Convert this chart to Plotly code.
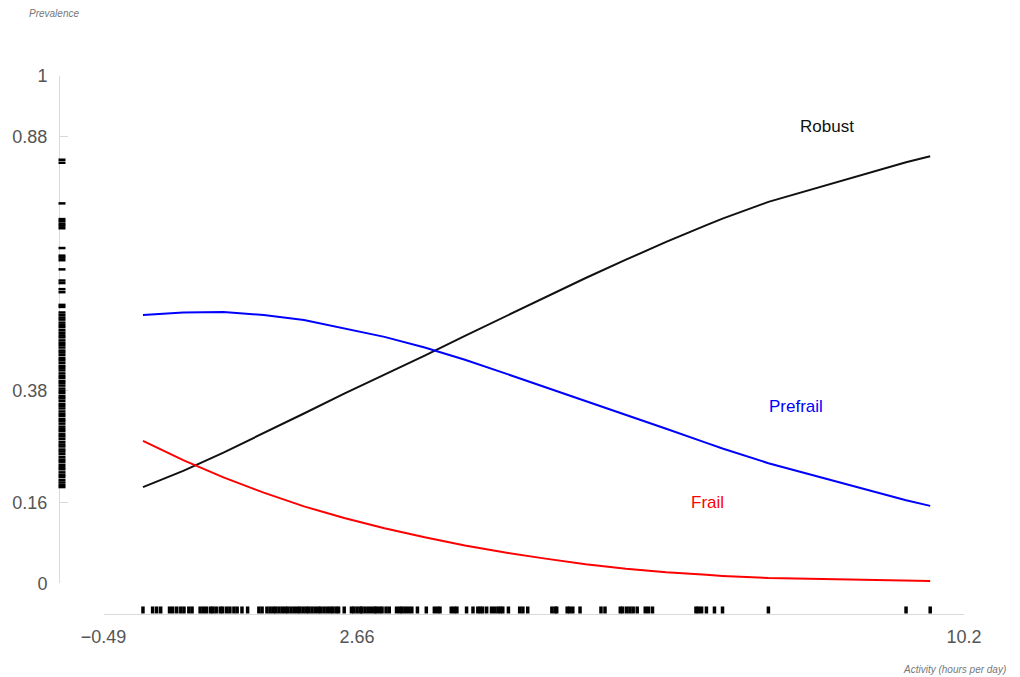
import plotly.graph_objects as go

# Activity level (hours per day) at which the fitted prevalences are evaluated
activity_grid = [0.0, 0.5, 1.0, 1.5, 2.0, 2.5, 3.0, 3.5, 4.0, 4.5, 5.0, 5.5, 6.0, 6.5,
                 7.0, 7.2, 7.77, 9.48, 9.78]

prev_robust = [0.190, 0.222, 0.258, 0.296, 0.335, 0.374, 0.411, 0.449, 0.488, 0.526,
               0.565, 0.602, 0.638, 0.673, 0.706, 0.719, 0.752, 0.830, 0.842]

prev_prefrail = [0.529, 0.534, 0.535, 0.529, 0.519, 0.503, 0.486, 0.465, 0.441, 0.414,
                 0.387, 0.360, 0.333, 0.305, 0.277, 0.266, 0.237, 0.164, 0.153]

prev_frail = [0.281, 0.243, 0.209, 0.179, 0.152, 0.129, 0.109, 0.091, 0.075, 0.061,
              0.049, 0.038, 0.029, 0.022, 0.017, 0.015, 0.011, 0.006, 0.005]

# Observed activity values (rug along the x axis)
activity_obs = [
    0.00, 0.12, 0.17, 0.22, 0.33, 0.37, 0.42, 0.47, 0.51, 0.57, 0.61, 0.71, 0.75, 0.79,
    0.84, 0.87, 0.91, 0.96, 0.99, 1.04, 1.08, 1.13, 1.17, 1.23, 1.30, 1.44, 1.48, 1.54,
    1.58, 1.62, 1.65, 1.69, 1.73, 1.77, 1.80, 1.84, 1.88, 1.92, 1.95, 1.99, 2.03, 2.06,
    2.10, 2.14, 2.18, 2.21, 2.25, 2.29, 2.33, 2.36, 2.40, 2.43, 2.50, 2.59, 2.62, 2.66,
    2.70, 2.72, 2.76, 2.80, 2.84, 2.88, 2.90, 2.94, 2.97, 3.02, 3.06, 3.15, 3.19, 3.22,
    3.26, 3.30, 3.34, 3.41, 3.52, 3.62, 3.66, 3.69, 3.83, 3.87, 3.90, 4.02, 4.10, 4.16,
    4.19, 4.22, 4.27, 4.33, 4.37, 4.41, 4.44, 4.47, 4.54, 4.68, 4.72, 4.78, 5.08, 5.12,
    5.14, 5.27, 5.30, 5.34, 5.43, 5.69, 5.74, 5.93, 5.96, 6.01, 6.05, 6.09, 6.14, 6.24,
    6.28, 6.33, 6.87, 6.90, 6.94, 7.00, 7.10, 7.20, 7.77, 9.48, 9.78,
]

# Observed prevalence-scale values (rug along the y axis)
prevalence_obs = [
    0.835, 0.829, 0.749, 0.718, 0.714, 0.709, 0.705, 0.700, 0.661, 0.646, 0.642, 0.637,
    0.619, 0.597, 0.592, 0.580, 0.574, 0.549, 0.545, 0.534, 0.529, 0.524, 0.520, 0.514,
    0.509, 0.505, 0.499, 0.494, 0.489, 0.485, 0.479, 0.474, 0.470, 0.465, 0.459, 0.455,
    0.450, 0.444, 0.440, 0.435, 0.429, 0.425, 0.420, 0.414, 0.409, 0.405, 0.399, 0.395,
    0.390, 0.384, 0.379, 0.375, 0.369, 0.365, 0.360, 0.354, 0.350, 0.345, 0.339, 0.334,
    0.330, 0.324, 0.320, 0.315, 0.309, 0.304, 0.300, 0.294, 0.290, 0.285, 0.279, 0.274,
    0.270, 0.264, 0.260, 0.255, 0.249, 0.244, 0.240, 0.234, 0.229, 0.225, 0.219, 0.214,
    0.210, 0.204, 0.199, 0.194, 0.190,
]

x_ticks = [-0.49, 2.66, 10.2]
x_ticktext = ["\u22120.49", "2.66", "10.2"]
y_ticks = [0, 0.16, 0.38, 0.88, 1]
y_ticktext = ["0", "0.16", "0.38", "0.88", "1"]

FONT = "Liberation Sans, Arial, Helvetica, sans-serif"
AXIS_GREY = "#d9d9d9"
LABEL_GREY = "#555555"

fig = go.Figure()

fig.add_trace(go.Scatter(x=activity_grid, y=prev_robust, mode="lines",
                         line=dict(color="#111111", width=2), showlegend=False))
fig.add_trace(go.Scatter(x=activity_grid, y=prev_prefrail, mode="lines",
                         line=dict(color="#0000ff", width=2), showlegend=False))
fig.add_trace(go.Scatter(x=activity_grid, y=prev_frail, mode="lines",
                         line=dict(color="#ff0000", width=2), showlegend=False))

# rug on the x axis, drawn in a thin strip just above the axis line
fig.add_trace(go.Scatter(x=activity_obs, y=[0] * len(activity_obs), mode="markers",
                         xaxis="x", yaxis="y3", cliponaxis=False, showlegend=False,
                         marker=dict(symbol="line-ns", size=5,
                                     line=dict(color="black", width=3.5))))
# rug on the y axis, drawn in a thin strip just right of the axis line
fig.add_trace(go.Scatter(x=[0] * len(prevalence_obs), y=prevalence_obs, mode="markers",
                         xaxis="x2", yaxis="y", cliponaxis=False, showlegend=False,
                         marker=dict(symbol="line-ew", size=5,
                                     line=dict(color="black", width=2.5))))

fig.update_layout(
    width=1020, height=677,
    margin=dict(l=59, r=56, t=76, b=63),
    paper_bgcolor="white", plot_bgcolor="white",
    font=dict(family=FONT, color=LABEL_GREY),
    showlegend=False,
    xaxis=dict(
        domain=[0.0492, 1], range=[-0.49, 10.2], anchor="free", position=0,
        showline=True, linecolor=AXIS_GREY, linewidth=1,
        showgrid=False, zeroline=False,
        tickmode="array", tickvals=x_ticks, ticktext=x_ticktext,
        ticks="inside", ticklen=8, tickcolor=AXIS_GREY, tickwidth=1,
        ticklabelstandoff=6,
        tickfont=dict(size=18, color=LABEL_GREY, family=FONT),
    ),
    yaxis=dict(
        domain=[0.0567, 1], range=[0, 1], anchor="free", position=0,
        showline=True, linecolor=AXIS_GREY, linewidth=1,
        showgrid=False, zeroline=False,
        tickmode="array", tickvals=y_ticks, ticktext=y_ticktext,
        ticks="inside", ticklen=8, tickcolor=AXIS_GREY, tickwidth=1,
        ticklabelstandoff=8,
        tickfont=dict(size=18, color=LABEL_GREY, family=FONT),
    ),
    xaxis2=dict(domain=[0, 0.0066], range=[-1, 1], anchor="y", visible=False,
                showgrid=False, zeroline=False),
    yaxis3=dict(domain=[0, 0.015], range=[-1, 1], anchor="x", visible=False,
                showgrid=False, zeroline=False),
    annotations=[
        dict(text="Robust", x=8.50, y=0.90, xref="x", yref="y", showarrow=False,
             font=dict(size=17, color="#111111", family=FONT)),
        dict(text="Prefrail", x=8.11, y=0.348, xref="x", yref="y", showarrow=False,
             font=dict(size=17, color="#0000ff", family=FONT)),
        dict(text="Frail", x=7.01, y=0.159, xref="x", yref="y", showarrow=False,
             font=dict(size=17, color="#ff0000", family=FONT)),
        dict(text="<i>Prevalence</i>", x=-0.035, y=1.117, xref="paper", yref="paper",
             xanchor="left", yanchor="middle", showarrow=False,
             font=dict(size=10, color="#777777", family=FONT)),
        dict(text="<i>Activity (hours per day)</i>", x=1.0486, y=-0.104,
             xref="paper", yref="paper", xanchor="right", yanchor="middle",
             showarrow=False, font=dict(size=10, color="#777777", family=FONT)),
    ],
)

fig.write_html("out.html")
